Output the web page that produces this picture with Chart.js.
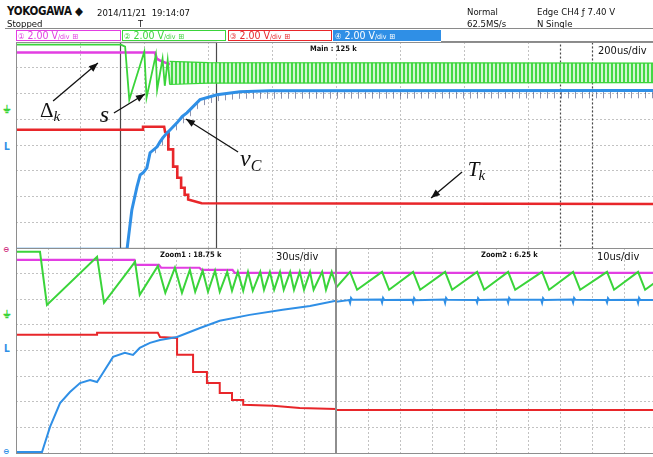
<!DOCTYPE html>
<html><head><meta charset="utf-8">
<script src="https://cdn.jsdelivr.net/npm/chart.js@4.4.1/dist/chart.umd.min.js"></script>
<style>
html,body{margin:0;padding:0;background:#fff;width:653px;height:457px;overflow:hidden;position:relative;
  font-family:"DejaVu Sans Condensed","Liberation Sans Narrow","DejaVu Sans",sans-serif;font-stretch:condensed;}
canvas{position:absolute;}
.t{position:absolute;white-space:nowrap;color:#111;font-size:9.5px;line-height:1;}
.b{font-weight:bold;}
.box{position:absolute;top:30px;height:11px;border:1px solid;box-sizing:border-box;font-size:10.5px;line-height:9px;padding-left:1px;white-space:nowrap;overflow:hidden;}
.box small{font-size:7px;}
.box .ic{font-size:8px;}
.hl{position:absolute;height:1px;background:#8a8a8a;}
.mk{position:absolute;font-weight:bold;font-size:10px;line-height:1;}
</style></head>
<body>
<script>
// ===== DATA (t = microseconds from left edge of each window, v = screen divisions from bottom, 8 div high) =====
// Main window, 200 us/div
const mainMagentaT = [0, 434, 440, 452, 470, 500, 540, 2000];
const mainMagentaV = [7.59, 7.59, 7.35, 7.27, 7.18, 7.08, 7.03, 7.03];
const mainGreenT = [0, 328, 341, 354, 401, 408, 437, 441, 458, 465, 474, 481];
const mainGreenV = [7.9, 7.9, 7.82, 5.76, 7.63, 5.84, 7.5, 6.15, 7.35, 6.3, 7.3, 6.35];
const mainGreenBandT = [480, 600, 2000];
const mainGreenBandHi = [7.25, 7.2, 7.18];
const mainGreenBandLo = [6.35, 6.4, 6.42];
const mainBlueT = [0, 347, 362, 378, 388, 397, 409, 419, 441, 450, 459, 472, 488, 503, 519, 534, 575, 628, 700, 794, 2000];
const mainBlueV = [-0.05, -0.05, 1.48, 2.37, 2.84, 2.92, 3.11, 3.70, 3.93, 4.12, 4.28, 4.47, 4.67, 4.86, 5.10, 5.25, 5.76, 5.95, 6.07, 6.11, 6.12];
const mainBlueSpikeT = [430, 500, 575, 628, 700, 2000];
const mainBlueSpikeHi = [3.85, 4.8, 5.76, 5.95, 6.07, 6.12];
const mainBlueSpikeLo = [3.6, 4.55, 5.5, 5.7, 5.8, 5.82];
const mainRedT = [0, 397, 397, 463, 466, 476, 476, 491, 491, 504, 504, 516, 516, 527, 527, 538, 538, 580, 2000];
const mainRedV = [4.59, 4.59, 4.71, 4.71, 4.5, 4.45, 3.83, 3.83, 3.16, 3.16, 2.73, 2.73, 2.34, 2.34, 2.07, 2.07, 1.88, 1.74, 1.71];

// Zoom1 window, 30 us/div
const z1MagentaT = [0, 111, 112, 134, 136, 172, 174, 203, 205, 300];
const z1MagentaV = [7.54, 7.54, 7.34, 7.34, 7.23, 7.23, 7.15, 7.15, 7.03, 7.03];
const z1GreenT = [0, 22.5, 29, 76, 82.5, 111.6, 116, 133, 140, 149, 155.6, 163, 168, 175, 180, 186.6, 191, 198, 202.5, 208, 213, 217.5, 222, 229, 232.5, 238, 242, 247.5, 251, 257, 260.6, 266, 270, 275.6, 279, 287, 290.6, 296, 300];
const z1GreenV = [7.85, 7.85, 5.78, 7.66, 5.86, 7.46, 6.17, 7.30, 6.25, 7.23, 6.25, 7.15, 6.29, 7.11, 6.29, 7.11, 6.29, 7.07, 6.33, 7.07, 6.33, 7.07, 6.33, 7.07, 6.37, 7.07, 6.37, 7.07, 6.37, 7.07, 6.37, 7.07, 6.37, 7.07, 6.37, 7.07, 6.37, 7.07, 6.56];
const z1BlueT = [0, 24.4, 31.9, 41.3, 50.6, 60, 69.4, 76, 81.6, 91, 102, 109.7, 116, 125.6, 135, 151, 172.5, 191, 219, 250, 275.6, 300];
const z1BlueV = [0.04, 0.04, 1.02, 1.95, 2.38, 2.73, 2.85, 2.77, 3.13, 3.75, 3.91, 3.83, 4.10, 4.30, 4.41, 4.53, 4.88, 5.16, 5.39, 5.59, 5.74, 5.94];
const z1RedT = [0, 76, 76, 133, 135, 151, 151, 166, 166, 179, 179, 191, 191, 202.5, 202.5, 213, 213, 241, 266, 300];
const z1RedV = [4.61, 4.61, 4.69, 4.69, 4.53, 4.49, 3.83, 3.83, 3.16, 3.16, 2.73, 2.73, 2.34, 2.34, 2.07, 2.07, 1.88, 1.84, 1.76, 1.72];

// Zoom2 window, 10 us/div
const z2MagentaT = [0, 100];
const z2MagentaV = [7.03, 7.03];
const z2GreenT = [0, 4.4, 6.6, 14.4, 16.6, 24.1, 26.3, 34.1, 36.3, 44.1, 46.3, 53.8, 56.0, 64.4, 66.6, 74.1, 76.3, 84.7, 86.9, 94.4, 96.6, 100];
const z2GreenV = [6.45, 7.07, 6.37, 7.07, 6.37, 7.07, 6.37, 7.07, 6.37, 7.07, 6.37, 7.07, 6.37, 7.07, 6.37, 7.07, 6.37, 7.07, 6.37, 7.07, 6.37, 6.68];
const z2BlueT = [0, 4.1, 4.4, 4.7, 5.1, 14.1, 14.4, 14.7, 15.1, 23.8, 24.1, 24.4, 24.8, 33.8, 34.1, 34.4, 34.8, 43.8, 44.1, 44.4, 44.8, 53.5, 53.8, 54.1, 54.5, 64.1, 64.4, 64.7, 65.1, 73.8, 74.1, 74.4, 74.8, 84.4, 84.7, 85.0, 85.4, 94.1, 94.4, 94.7, 95.1, 100];
const z2BlueV = [5.9, 5.97, 5.86, 6.05, 5.98, 5.99, 5.87, 6.05, 5.97, 5.98, 5.87, 6.04, 5.96, 5.99, 5.86, 6.05, 5.98, 5.97, 5.87, 6.04, 5.97, 5.99, 5.87, 6.05, 5.98, 5.98, 5.86, 6.04, 5.97, 5.99, 5.87, 6.05, 5.98, 5.97, 5.87, 6.04, 5.97, 5.98, 5.86, 6.05, 5.97, 5.97];
const z2RedT = [0, 100];
const z2RedV = [1.68, 1.68];

// Windows: [span us, us per division]
const mainWindow = [2000, 200];
const zoom1Window = [300, 30];
const zoom2Window = [100, 10];
const zoom1Range = [325, 625];   // zoom boxes within main window (us)
const zoom2Range = [1700, 1800];
// ===== END DATA =====

const C = {mag:'#e23ee2', grn:'#3ad43a', blu:'#2f8fe6', red:'#e8262a'};
const pts = (T, V) => T.map((t, i) => ({x: t, y: V[i]}));
function ds(T, V, color, w, extra) {
  return Object.assign({data: pts(T, V), borderColor: color, borderWidth: w, pointRadius: 0, tension: 0, fill: false, spanGaps: true}, extra || {});
}
function stripe(w, col, wa, bg) {
  const c = document.createElement('canvas'); c.width = w; c.height = 2;
  const g = c.getContext('2d');
  if (bg) { g.fillStyle = bg; g.fillRect(0, 0, w, 2); }
  g.fillStyle = col; g.fillRect(0, 0, wa, 2);
  return g.createPattern(c, 'repeat');
}
function arrow(ctx, x1, y1, x2, y2) {
  ctx.beginPath(); ctx.moveTo(x1, y1); ctx.lineTo(x2, y2); ctx.stroke();
  const a = Math.atan2(y2 - y1, x2 - x1), L = 9, W = 3.6;
  ctx.beginPath(); ctx.moveTo(x2, y2);
  ctx.lineTo(x2 - L * Math.cos(a) + W * Math.sin(a), y2 - L * Math.sin(a) - W * Math.cos(a));
  ctx.lineTo(x2 - L * Math.cos(a) - W * Math.sin(a), y2 - L * Math.sin(a) + W * Math.cos(a));
  ctx.closePath(); ctx.fill();
}
function overlay(cfg) {
  return {
    id: 'overlay',
    beforeDatasetsDraw(chart) {
      const {ctx, scales: {x, y}, chartArea: a} = chart;
      (cfg.boxes || []).forEach(b => {
        ctx.save(); ctx.strokeStyle = '#4a4a4a'; ctx.lineWidth = 1.2;
        if (b.dash) ctx.setLineDash([2, 2]);
        const x1 = Math.round(x.getPixelForValue(b.range[0])) + 0.5, x2 = Math.round(x.getPixelForValue(b.range[1])) + 0.5;
        ctx.strokeRect(x1, a.top + 0.5, x2 - x1, a.bottom - a.top);
        ctx.restore();
      });
    },
    afterDraw(chart) {
      const {ctx, scales: {x, y}, chartArea: a} = chart;
      ctx.save(); ctx.strokeStyle = '#8e8e8e'; ctx.lineWidth = 1;
      ctx.strokeRect(a.left + 0.5, a.top + 0.5, a.right - a.left - 1, a.bottom - a.top);
      ctx.restore();
      (cfg.notes || []).forEach(n => {
        ctx.save(); ctx.fillStyle = '#111'; ctx.strokeStyle = '#111'; ctx.lineWidth = 1.3;
        arrow(ctx, x.getPixelForValue(n.from[0]), y.getPixelForValue(n.from[1]), x.getPixelForValue(n.to[0]), y.getPixelForValue(n.to[1]));
        const px = x.getPixelForValue(n.at[0]), py = y.getPixelForValue(n.at[1]);
        ctx.font = n.font; ctx.textBaseline = 'alphabetic';
        ctx.fillText(n.main, px, py);
        const w = ctx.measureText(n.main).width;
        if (n.sub) { ctx.font = n.subFont; ctx.fillText(n.sub, px + w + (n.subDx || 0), py + (n.subDy || 4)); }
        ctx.restore();
      });
    }
  };
}
function options(win) {
  const grid = {color: '#c2c2c2', drawTicks: false, lineWidth: 1};
  return {
    responsive: false, animation: false, events: [],
    layout: {padding: 1},
    plugins: {legend: {display: false}, tooltip: {enabled: false}},
    scales: {
      x: {type: 'linear', min: 0, max: win[0], ticks: {display: false, stepSize: win[1]}, grid: grid,
          border: {display: false, dash: [2, 2]}, afterFit(s) { s.height = 0; }},
      y: {type: 'linear', min: 0, max: 8, ticks: {display: false, stepSize: 1}, grid: grid,
          border: {display: false, dash: [2, 2]}, afterFit(s) { s.width = 0; }}
    }
  };
}
function makeCanvas(l, t, w, h) {
  const c = document.createElement('canvas');
  c.width = w; c.height = h; c.style.left = l + 'px'; c.style.top = t + 'px';
  c.style.width = w + 'px'; c.style.height = h + 'px';
  document.body.appendChild(c); return c;
}

// Main window
const greenStripe = stripe(4, '#45d845', 2, '#d2f5d2');
const blueTicks = stripe(7, 'rgba(50,60,110,0.55)', 1, null);
new Chart(makeCanvas(15, 41, 642, 208), {
  type: 'line',
  data: {datasets: [
    ds(mainBlueT, mainBlueV, C.blu, 3),
    ds(mainBlueSpikeT, mainBlueSpikeHi, 'rgba(0,0,0,0)', 0),
    ds(mainBlueSpikeT, mainBlueSpikeLo, 'rgba(0,0,0,0)', 0, {fill: 1, backgroundColor: blueTicks}),
    ds(mainRedT, mainRedV, C.red, 2.6),
    ds(mainGreenT, mainGreenV, C.grn, 1.8),
    ds(mainGreenBandT, mainGreenBandHi, C.grn, 1.2),
    ds(mainGreenBandT, mainGreenBandLo, C.grn, 1.2, {fill: 5, backgroundColor: greenStripe}),
    ds(mainMagentaT, mainMagentaV, C.mag, 2.6)
  ]},
  options: options(mainWindow),
  plugins: [overlay({
    boxes: [{range: zoom1Range}, {range: zoom2Range, dash: true}],
    notes: [
      {main: 'Δ', sub: 'k', at: [75, 5.09], font: '21px "Liberation Serif"', subFont: 'italic 15px "Liberation Serif"', subDy: 4, from: [116, 5.71], to: [256, 7.18]},
      {main: 's', at: [262, 4.89], font: 'italic 24px "Liberation Serif"', from: [306, 5.24], to: [403, 5.98]},
      {main: 'v', sub: 'C', at: [700, 3.18], font: 'italic 24px "Liberation Serif"', subFont: 'italic 16px "Liberation Serif"', subDy: 5, from: [694, 3.73], to: [531, 5.01]},
      {main: 'T', sub: 'k', at: [1412, 2.8], font: 'italic 21px "Liberation Serif"', subFont: 'italic 15px "Liberation Serif"', subDy: 4, subDx: -1, from: [1394, 2.95], to: [1297, 1.94]}
    ]
  })]
});

// Zoom1 window
new Chart(makeCanvas(15, 247, 322, 207), {
  type: 'line',
  data: {datasets: [
    ds(z1BlueT, z1BlueV, C.blu, 2),
    ds(z1RedT, z1RedV, C.red, 2),
    ds(z1GreenT, z1GreenV, C.grn, 2),
    ds(z1MagentaT, z1MagentaV, C.mag, 2.2)
  ]},
  options: options(zoom1Window),
  plugins: [overlay({})]
});

// Zoom2 window
new Chart(makeCanvas(335, 247, 322, 207), {
  type: 'line',
  data: {datasets: [
    ds(z2BlueT, z2BlueV, C.blu, 2),
    ds(z2RedT, z2RedV, C.red, 2),
    ds(z2GreenT, z2GreenV, C.grn, 2),
    ds(z2MagentaT, z2MagentaV, C.mag, 2.2)
  ]},
  options: options(zoom2Window),
  plugins: [overlay({})]
});
</script>

<!-- header -->
<div class="t b" style="left:7px;top:6px;font-size:11.5px;letter-spacing:-0.3px;">YOKOGAWA ◆</div>
<div class="t" style="left:97px;top:8px;">2014/11/21&nbsp; 19:14:07</div>
<div class="t" style="left:7px;top:19px;">Stopped</div>
<div class="t" style="left:138px;top:20px;font-size:9px;">T</div>
<div class="t" style="left:467px;top:7px;">Normal</div>
<div class="t" style="left:467px;top:19px;">62.5MS/s</div>
<div class="t" style="left:537px;top:7px;">Edge CH4 ƒ 7.40 V</div>
<div class="t" style="left:537px;top:19px;">N Single</div>
<div class="hl" style="left:5px;top:28px;width:648px;"></div>
<div class="hl" style="left:441px;top:41px;width:212px;"></div>

<div class="box" style="left:16px;width:105px;border-color:#e23ee2;color:#e23ee2;"><span class="ic">①</span> 2.00 V<small>/div</small> <span class="ic">⊞</span></div>
<div class="box" style="left:122px;width:104px;border-color:#3ad43a;color:#3ad43a;"><span class="ic">②</span> 2.00 V<small>/div</small> <span class="ic">⊞</span></div>
<div class="box" style="left:228px;width:104px;border-color:#e8262a;color:#e8262a;"><span class="ic">③</span> 2.00 V<small>/div</small> <span class="ic">⊞</span></div>
<div class="box" style="left:333px;width:108px;border-color:#2f8fe6;background:#2f8fe6;color:#fff;"><span class="ic">④</span> 2.00 V<small>/div</small> <span class="ic">⊞</span></div>

<!-- window captions -->
<div class="t b" style="left:310px;top:45px;font-size:7.5px;">Main : 125 k</div>
<div class="t" style="left:598px;top:45px;font-size:11px;">200us/div</div>
<div class="t b" style="left:160px;top:251px;font-size:7.5px;">Zoom1 : 18.75 k</div>
<div class="t" style="left:276px;top:251px;font-size:11px;">30us/div</div>
<div class="t b" style="left:481px;top:251px;font-size:7.5px;">Zoom2 : 6.25 k</div>
<div class="t" style="left:597px;top:251px;font-size:11px;">10us/div</div>

<!-- channel offset markers -->
<div class="mk" style="left:3px;top:104px;color:#3ad43a;font-size:11px;">⏚</div>
<div class="mk" style="left:4px;top:142px;color:#2f8fe6;">L</div>
<div class="mk" style="left:3px;top:246px;color:#d03080;font-size:8px;">⊖</div>
<div class="mk" style="left:3px;top:309px;color:#3ad43a;font-size:11px;">⏚</div>
<div class="mk" style="left:4px;top:344px;color:#2f8fe6;">L</div>
<div class="mk" style="left:3px;top:448px;color:#2f8fe6;font-size:8px;">⊖</div>
</body></html>
